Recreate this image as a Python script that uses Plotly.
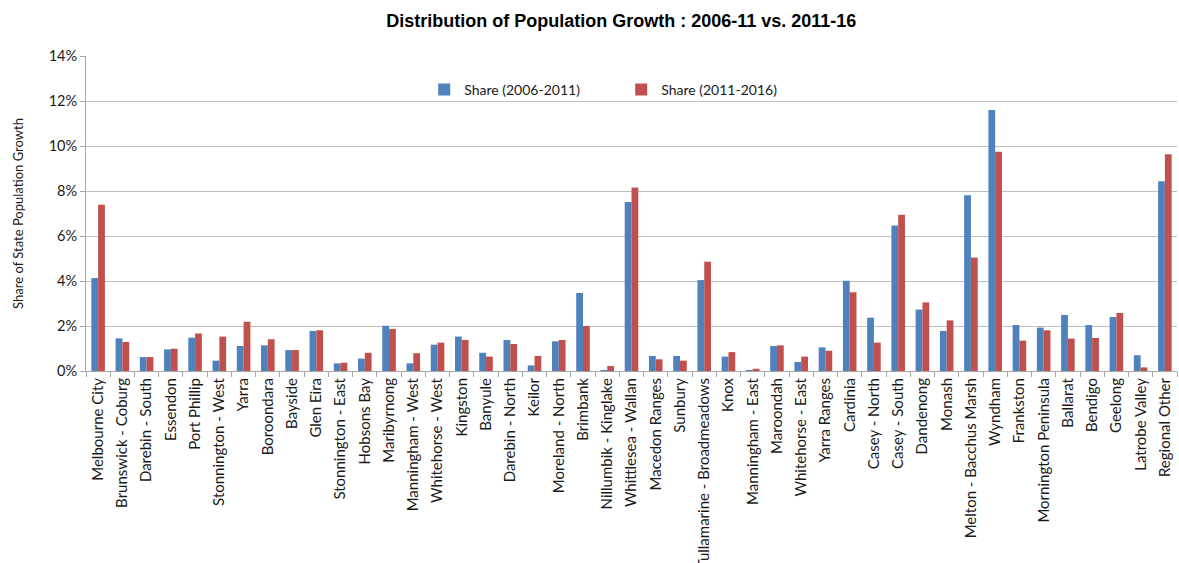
import plotly.graph_objects as go

categories = [
    "Melbourne City", "Brunswick - Coburg", "Darebin - South", "Essendon", "Port Phillip",
    "Stonnington - West", "Yarra", "Boroondara", "Bayside", "Glen Eira",
    "Stonnington - East", "Hobsons Bay", "Maribyrnong", "Manningham - West", "Whitehorse - West",
    "Kingston", "Banyule", "Darebin - North", "Keilor", "Moreland - North",
    "Brimbank", "Nillumbik - Kinglake", "Whittlesea - Wallan", "Macedon Ranges", "Sunbury",
    "Tullamarine - Broadmeadows", "Knox", "Manningham - East", "Maroondah", "Whitehorse - East",
    "Yarra Ranges", "Cardinia", "Casey - North", "Casey - South", "Dandenong",
    "Monash", "Melton - Bacchus Marsh", "Wyndham", "Frankston", "Mornington Peninsula",
    "Ballarat", "Bendigo", "Geelong", "Latrobe Valley", "Regional Other",
]

share_2006_2011 = [
    4.13, 1.45, 0.62, 0.96, 1.48,
    0.46, 1.11, 1.14, 0.93, 1.78,
    0.34, 0.55, 2.01, 0.34, 1.17,
    1.53, 0.81, 1.38, 0.25, 1.32,
    3.47, 0.04, 7.51, 0.67, 0.67,
    4.04, 0.64, 0.03, 1.11, 0.40,
    1.05, 4.01, 2.37, 6.47, 2.73,
    1.78, 7.81, 11.60, 2.04, 1.93,
    2.49, 2.04, 2.40, 0.70, 8.43,
]

share_2011_2016 = [
    7.39, 1.29, 0.62, 0.99, 1.67,
    1.53, 2.19, 1.41, 0.93, 1.81,
    0.37, 0.81, 1.87, 0.79, 1.26,
    1.38, 0.64, 1.20, 0.67, 1.38,
    2.00, 0.22, 8.16, 0.52, 0.46,
    4.86, 0.84, 0.10, 1.14, 0.64,
    0.90, 3.50, 1.26, 6.95, 3.05,
    2.25, 5.04, 9.75, 1.35, 1.81,
    1.44, 1.47, 2.58, 0.16, 9.63,
]

series_names = ["Share (2006-2011)", "Share (2011-2016)"]
title_text = "Distribution of Population Growth : 2006-11 vs. 2011-16"
y_title = "Share of State Population Growth"

fig = go.Figure()
fig.add_trace(go.Bar(x=categories, y=share_2006_2011, name=series_names[0],
                     marker=dict(color="#4F81BD", line=dict(width=0))))
fig.add_trace(go.Bar(x=categories, y=share_2011_2016, name=series_names[1],
                     marker=dict(color="#C0504D", line=dict(width=0))))

font_family = "Lato, 'Open Sans', sans-serif"

fig.update_layout(
    width=1179, height=563,
    margin=dict(l=86, r=2, t=56, b=192),
    paper_bgcolor="white", plot_bgcolor="white",
    barmode="group", bargap=0.44, bargroupgap=0,
    font=dict(family=font_family, size=14, color="#1a1a1a"),
    title=dict(text="<b>" + title_text + "</b>", x=0.527, xanchor="center",
               y=0.963, yanchor="middle",
               font=dict(size=18, color="#000000", family="'Liberation Sans', Arial, sans-serif")),
    legend=dict(orientation="h", x=0.31, xanchor="left", y=0.892, yanchor="middle",
                bgcolor="rgba(0,0,0,0)", font=dict(size=14), entrywidth=152,
                itemwidth=30, traceorder="normal"),
    showlegend=True,
)

fig.update_xaxes(
    type="category", tickangle=-90, tickfont=dict(size=15),
    showline=True, linecolor="#A6A6A6", linewidth=1,
    ticks="outside", tickson="boundaries", ticklen=5, tickcolor="#A6A6A6",
    showgrid=False, automargin=False,
)
fig.update_yaxes(
    range=[0, 14], dtick=2, ticksuffix="%", tickfont=dict(size=14.5),
    showline=True, linecolor="#A6A6A6", linewidth=1,
    ticks="outside", ticklen=5, tickcolor="#A6A6A6",
    showgrid=True, gridcolor="#BFBFBF", gridwidth=1, zeroline=False,
    title=dict(text=y_title, font=dict(size=13), standoff=22), automargin=False,
)

fig.write_html("out.html", config={"displayModeBar": False},
               post_script="document.body.style.margin='0';document.body.style.overflow='hidden';")
